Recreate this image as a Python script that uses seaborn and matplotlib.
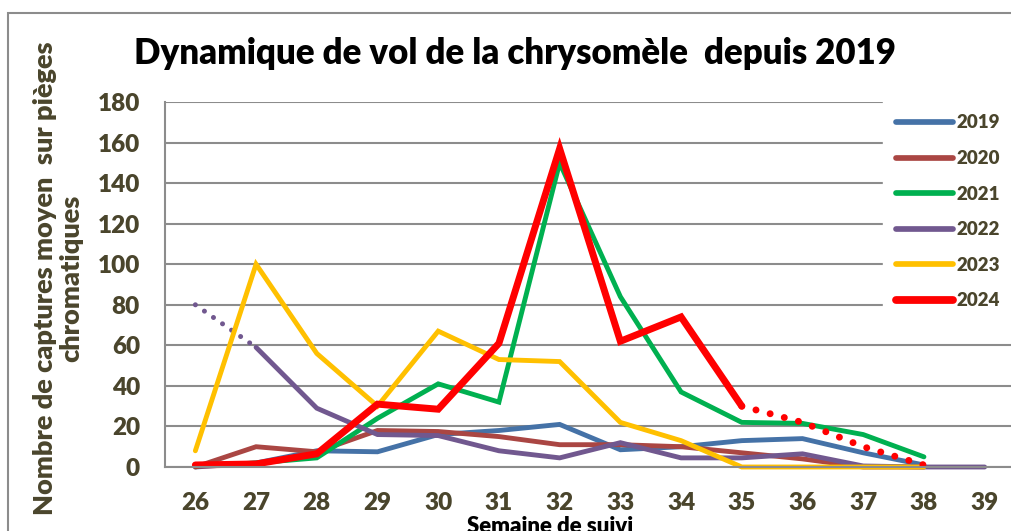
import numpy as np
import pandas as pd
import matplotlib.pyplot as plt
import seaborn as sns
from matplotlib.patches import Rectangle
from matplotlib.lines import Line2D

# Data
weeks = list(range(26, 40))
years = ["2019", "2020", "2021", "2022", "2023", "2024"]
nan = np.nan
v2019 = [0, 2, 8, 7.5, 16, 18, 21, 8.5, 10, 13, 14, 7, 1, nan]
v2020 = [0, 10, 7.5, 18, 17.5, 15, 11, 11, 10, 7, 4, 0, 0, nan]
v2021 = [0.5, 2, 4.5, 24, 41, 32, 150, 84, 37, 22, 21.5, 16, 5, nan]
v2022 = [nan, 59, 29, 16, 15.5, 8, 4.5, 12, 4.5, 4.5, 6.5, 0.5, 0, 0]
v2023 = [8, 100, 56, 30, 67, 53, 52, 22, 13, 0, 0, 0, 0, nan]
v2024 = [1, 1.5, 6.5, 31, 28.5, 61, 157, 62, 74, 30, nan, nan, nan, nan]
# dotted segments (estimated / incomplete)
dot2022_weeks = [26, 27]
dot2022_vals = [80, 59]
dot2024_weeks = [35, 36, 37, 38]
dot2024_vals = [30, 22, 10, 1]

colors = {"2019": "#4572A7", "2020": "#AA4643", "2021": "#00B050",
          "2022": "#71588F", "2023": "#FFC000", "2024": "#FF0000"}
widths = {"2019": 3.5, "2020": 3.5, "2021": 3.5, "2022": 3.5, "2023": 3.5, "2024": 5.0}

series = [v2019, v2020, v2021, v2022, v2023, v2024]
df = pd.DataFrame({
    "week": weeks * len(years),
    "value": [v for s in series for v in s],
    "year": [y for y in years for _ in weeks],
}).dropna()

sns.set_style("white")
plt.rcParams["font.family"] = ["Lato", "DejaVu Sans"]
plt.rcParams["font.weight"] = "heavy"

text_col = "#4A452C"
grid_col = "#8C8C8C"
W = "heavy"

fig = plt.figure(figsize=(10.12, 5.31), dpi=100)
ax = fig.add_axes([165 / 1012, 1 - 467 / 531, (1015 - 165) / 1012, (467 - 102) / 531])

for y in years:
    sns.lineplot(data=df[df["year"] == y], x="week", y="value", color=colors[y],
                 linewidth=widths[y], ax=ax, clip_on=False,
                 solid_capstyle="round", solid_joinstyle="miter", legend=False)
    if y == "2022":
        sns.lineplot(x=dot2022_weeks, y=dot2022_vals, color=colors[y], linewidth=3.6,
                     linestyle=(0, (0.01, 2.2)), dash_capstyle="round", ax=ax, legend=False)
    if y == "2024":
        sns.lineplot(x=dot2024_weeks, y=dot2024_vals, color=colors[y], linewidth=5.0,
                     linestyle=(0, (0.01, 2.1)), dash_capstyle="round", ax=ax, legend=False)

ax.set_xlim(25.5, 39.5)
ax.set_ylim(0, 180)
ax.set_yticks(range(0, 181, 20))
ax.set_xticks(weeks)
ax.set_xticks(np.arange(25.5, 40, 1), minor=True)
ax.tick_params(axis="x", which="major", length=0, pad=18, labelsize=17.5, labelcolor=text_col)
ax.tick_params(axis="x", which="minor", length=7, width=1.5, color=grid_col, direction="out")
ax.tick_params(axis="y", length=8, width=1.5, color=grid_col, direction="out",
               pad=10, labelsize=17.5, labelcolor=text_col)
for lab in ax.get_xticklabels() + ax.get_yticklabels():
    lab.set_fontweight(W)
ax.yaxis.grid(True, color=grid_col, linewidth=1.5)
ax.set_axisbelow(True)
for s in ["top", "right"]:
    ax.spines[s].set_visible(False)
for s in ["left", "bottom"]:
    ax.spines[s].set_color(grid_col)
    ax.spines[s].set_linewidth(1.5)
ax.set_xlabel("")
ax.set_ylabel("")

handles = [Line2D([], [], color=colors[y], linewidth=widths[y] + 0.6, solid_capstyle="round")
           for y in years]
leg = ax.legend(handles, years, loc="upper left", bbox_to_anchor=(883 / 1012, 1 - 101 / 531),
                bbox_transform=fig.transFigure, frameon=True, framealpha=1, edgecolor="white",
                fancybox=False, handlelength=3.0, handletextpad=0.2, labelspacing=0.99,
                borderpad=0.72, borderaxespad=0, prop={"size": 13.5, "weight": W})
for t in leg.get_texts():
    t.set_color(text_col)

fig.text(515 / 1012, 1 - 37 / 531, "Dynamique de vol de la chrysomèle  depuis 2019",
         ha="center", va="top", fontsize=25, fontweight=W, color="black")
fig.text(58 / 1012, 1 - 278 / 531, "Nombre de captures moyen  sur pièges\nchromatiques",
         ha="center", va="center", rotation=90, fontsize=19.5, fontweight=W,
         color=text_col, linespacing=1.1)
fig.text(550 / 1012, 1 - 516 / 531, "Semaine de suivi", ha="center", va="top",
         fontsize=16, fontweight=W, color="black")

fig.patches.append(Rectangle((8 / 1012, -0.1), 1.2, 1.1 - 13 / 531, transform=fig.transFigure,
                             fill=False, edgecolor=grid_col, linewidth=1.5, zorder=0))

fig.savefig("out.png", dpi=100)
